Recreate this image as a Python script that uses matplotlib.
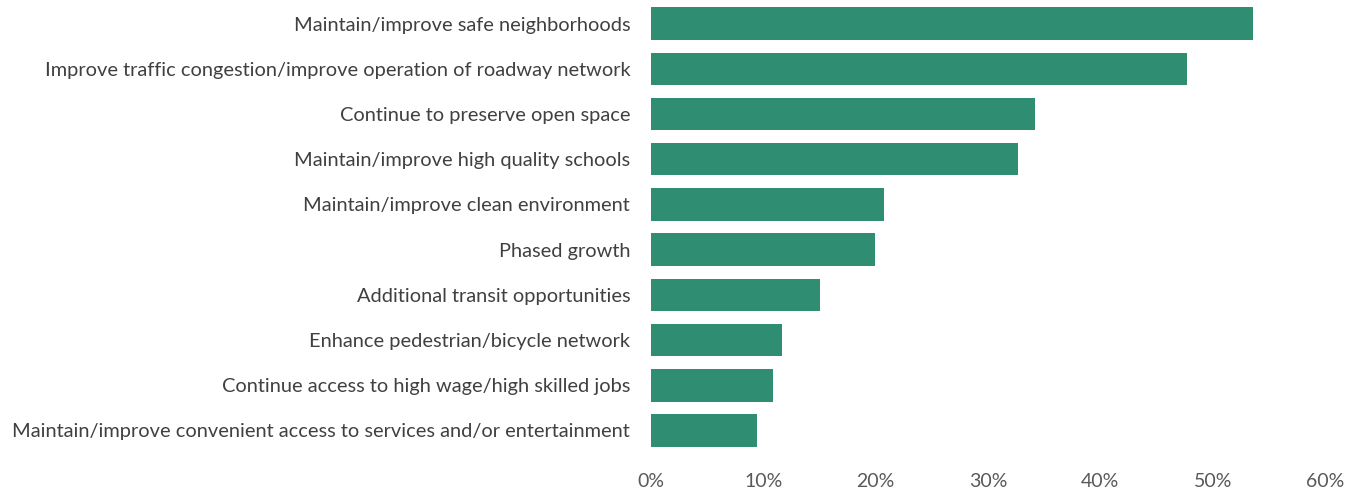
import numpy as np
import matplotlib.pyplot as plt
from matplotlib.ticker import PercentFormatter

# Prioridades (de arriba a abajo)
categorias = [
    "Maintain/improve safe neighborhoods",
    "Improve traffic congestion/improve operation of roadway network",
    "Continue to preserve open space",
    "Maintain/improve high quality schools",
    "Maintain/improve clean environment",
    "Phased growth",
    "Additional transit opportunities",
    "Enhance pedestrian/bicycle network",
    "Continue access to high wage/high skilled jobs",
    "Maintain/improve convenient access to services and/or entertainment",
]
valores = [53.6, 47.7, 34.2, 32.7, 20.7, 19.9, 15.0, 11.7, 10.9, 9.4]
ticks_x = [0, 10, 20, 30, 40, 50, 60]

plt.rcParams['font.family'] = ['Lato', 'DejaVu Sans']

fig = plt.figure(figsize=(13.7, 4.93), dpi=100)
ax = fig.add_axes([0.4752, 0.081, 0.492, 0.917])

y = np.arange(len(categorias))
ax.barh(y, valores, height=0.72, color='#2f8d72')
ax.set_yticks(y)
ax.set_yticklabels(categorias, fontsize=14.4, color='#404040')
ax.invert_yaxis()
ax.set_ylim(len(categorias) - 0.5, -0.5)

ax.set_xlim(0, 60)
ax.set_xticks(ticks_x)
ax.xaxis.set_major_formatter(PercentFormatter(decimals=0))
ax.tick_params(axis='x', labelsize=14, labelcolor='#595959', length=0, pad=14)
ax.tick_params(axis='y', length=0, pad=15)

for s in ax.spines.values():
    s.set_visible(False)

fig.savefig('out.png', dpi=100)
